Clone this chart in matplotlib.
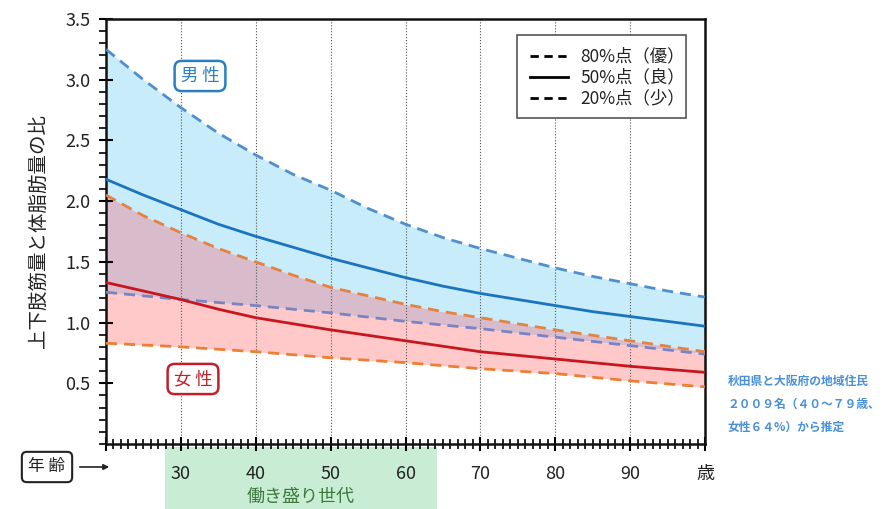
import matplotlib
matplotlib.use("Agg")
import matplotlib.pyplot as plt
import numpy as np
from matplotlib.patches import FancyBboxPatch, Rectangle, FancyArrowPatch

plt.rcParams['font.family'] = ['Noto Sans CJK JP', 'DejaVu Sans']

ages = [20, 25, 30, 35, 40, 45, 50, 55, 60, 65, 70, 75, 80, 85, 90, 95, 100]
male_80 = [3.25, 3.00, 2.77, 2.56, 2.38, 2.22, 2.09, 1.94, 1.81, 1.70, 1.61, 1.53, 1.45, 1.38, 1.32, 1.26, 1.21]
male_50 = [2.18, 2.05, 1.93, 1.81, 1.71, 1.62, 1.53, 1.45, 1.37, 1.30, 1.24, 1.19, 1.14, 1.09, 1.05, 1.01, 0.97]
male_20 = [1.25, 1.22, 1.19, 1.165, 1.14, 1.11, 1.08, 1.045, 1.01, 0.98, 0.95, 0.915, 0.88, 0.845, 0.81, 0.775, 0.74]
female_80 = [2.05, 1.88, 1.74, 1.61, 1.50, 1.39, 1.29, 1.22, 1.15, 1.09, 1.04, 0.99, 0.94, 0.895, 0.85, 0.805, 0.76]
female_50 = [1.33, 1.26, 1.19, 1.11, 1.04, 0.99, 0.94, 0.895, 0.85, 0.805, 0.76, 0.73, 0.70, 0.67, 0.64, 0.615, 0.59]
female_20 = [0.83, 0.815, 0.80, 0.78, 0.76, 0.735, 0.71, 0.69, 0.67, 0.645, 0.62, 0.60, 0.58, 0.55, 0.52, 0.495, 0.47]

xtick_pos = [20, 30, 40, 50, 60, 70, 80, 90, 100]
xtick_labels = ['', '30', '40', '50', '60', '70', '80', '90', '歳']
ytick_pos = [0.5, 1.0, 1.5, 2.0, 2.5, 3.0, 3.5]
legend_labels = ['80%点（優）', '50%点（良）', '20%点（少）']

fig = plt.figure(figsize=(8.9, 5.09), dpi=100)

# green band (behind everything)
fig.patches.append(Rectangle((165/890, 0), (437-165)/890, (509-447)/509, transform=fig.transFigure,
                             fc='#c9edd4', ec='none', zorder=-5))

ax = fig.add_axes([106/890, 1-444/509, (705-106)/890, (444-19)/509])
ax.patch.set_alpha(0)

x = np.array(ages)
m80, m20 = np.array(male_80), np.array(male_20)
f80, f20 = np.array(female_80), np.array(female_20)

blue_fill = '#c8ecf9'
pink_fill = '#ffc9c9'
over_fill = '#d9bccb'
ax.fill_between(x, np.maximum(f80, m20), m80, color=blue_fill, lw=0, zorder=1)
ax.fill_between(x, m20, np.maximum(f80, m20), color=over_fill, lw=0, zorder=1)
ax.fill_between(x, f20, np.minimum(m20, f80), color=pink_fill, lw=0, zorder=1)

for gx in [30, 40, 50, 60, 70, 80, 90]:
    ax.axvline(gx, color='#555555', lw=0.8, ls=':', zorder=1.5)

dash = (0, (4, 2.5))
ax.plot(x, m80, color='#4f8fcf', lw=2, ls=dash, zorder=3)
ax.plot(x, np.array(male_50), color='#1a74c0', lw=2, zorder=3)
ax.plot(x, m20, color='#7a84c4', lw=2, ls=dash, zorder=3)
ax.plot(x, f80, color='#e4823f', lw=2, ls=dash, zorder=3)
ax.plot(x, np.array(female_50), color='#c8161e', lw=2, zorder=3)
ax.plot(x, f20, color='#ec7f34', lw=2, ls=dash, zorder=3)

ax.set_xlim(20, 100)
ax.set_ylim(0, 3.5)
ax.set_yticks(ytick_pos)
ax.set_yticklabels([f'{v:.1f}' for v in ytick_pos], fontsize=13, color='#222222')
ax.set_yticks(np.arange(0, 3.51, 0.1), minor=True)
ax.set_xticks(xtick_pos)
ax.set_xticklabels(xtick_labels, fontsize=13, color='#222222')
ax.set_xticks(np.arange(20, 101, 1), minor=True)
ax.tick_params(axis='y', which='major', direction='inout', length=10, width=1.5, pad=6)
ax.tick_params(axis='y', which='minor', direction='out', length=5, width=1.2)
ax.tick_params(axis='x', which='major', direction='inout', length=10, width=1.5, pad=10)
ax.tick_params(axis='x', which='minor', direction='inout', length=7, width=1.2)
for s in ax.spines.values():
    s.set_linewidth(1.8)
    s.set_color('#111111')

ax.set_ylabel('上下肢筋量と体脂肪量の比', fontsize=14, color='#222222', labelpad=12)

# legend box
leg = FancyBboxPatch((517/890, 1-118/509), (686-517)/890, (118-35)/509,
                     boxstyle='square,pad=0', transform=fig.transFigure,
                     fc='white', ec='#555555', lw=1.2, zorder=5)
fig.patches.append(leg)
styles = [(0, (3, 2)), '-', (0, (3, 2))]
for i, (lab, st) in enumerate(zip(legend_labels, styles)):
    yy = 1 - (56 + i*21)/509
    fig.add_artist(plt.Line2D([530/890, 568/890], [yy, yy], transform=fig.transFigure,
                              color='black', lw=2, ls=st, zorder=6))
    fig.text(580/890, yy, lab, fontsize=12.5, va='center', ha='left', color='#222222', zorder=6)

# sex labels
fig.text(200/890, 1-76/509, '男 性', fontsize=12.5, color='#2a7fc4',
         ha='center', va='center', zorder=6,
         bbox=dict(boxstyle='round,pad=0.35,rounding_size=0.4', fc='white', ec='#2a7fc4', lw=1.8))
fig.text(193/890, 1-379/509, '女 性', fontsize=12.5, color='#c0202a',
         ha='center', va='center', zorder=6,
         bbox=dict(boxstyle='round,pad=0.35,rounding_size=0.4', fc='white', ec='#c0202a', lw=1.8))

fig.text(301/890, 1-497/509, '働き盛り世代', fontsize=13, color='#3b7a3b', ha='center', va='center')

# 年齢 box and arrow
fig.text(47/890, 1-467/509, '年 齢', fontsize=12, color='#222222', ha='center', va='center',
         bbox=dict(boxstyle='round,pad=0.4,rounding_size=0.3', fc='white', ec='#222222', lw=1.5))
fig.add_artist(FancyArrowPatch((77/890, 1-467/509), (112/890, 1-467/509),
               transform=fig.transFigure, arrowstyle='-|>', mutation_scale=8, color='#222222', lw=1.2))

# note
fig.text(728/890, 1-404/509, '秋田県と大阪府の地域住民\n２００９名（４０～７９歳、\n女性６４%）から推定',
         fontsize=8.5, color='#4a8fd8', fontweight='bold', ha='left', va='center', linespacing=2.0)

fig.savefig('out.png', dpi=100)
